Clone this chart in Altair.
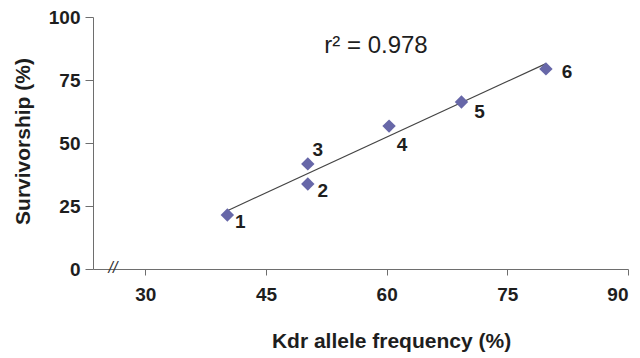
import altair as alt
import pandas as pd

# Data
site = ["1", "2", "3", "4", "5", "6"]
kdr_freq = [40.2, 50.2, 50.2, 60.3, 69.3, 79.8]
survivorship = [21.4, 33.7, 41.7, 56.7, 66.3, 79.4]
r2_text = ["r\u00b2 = 0.978"]

df = pd.DataFrame({"site": site, "kdr": kdr_freq, "surv": survivorship})

FONT = "Liberation Sans"
PT_COLOR = "#6767a8"
TXT = "#1e1e1e"

xscale = alt.Scale(domain=[23.5, 90], nice=False, zero=False)
yscale = alt.Scale(domain=[0, 100], nice=False)

base = alt.Chart(df)

points = base.mark_point(shape="diamond", filled=True, size=180, opacity=1,
                         color=PT_COLOR).encode(
    x=alt.X("kdr:Q", scale=xscale,
            axis=alt.Axis(title="Kdr allele frequency (%)", values=[30, 45, 60, 75, 90],
                          grid=False, domainColor="#6e6e6e", tickColor="#6e6e6e",
                          tickSize=6, labelFontSize=19, labelFontWeight="bold",
                          labelFont=FONT, labelColor=TXT, labelPadding=10,
                          titleFont=FONT, titleFontSize=21, titleFontWeight="bold",
                          titleColor=TXT, titleX=298, titleY=78,
                          titleBaseline="alphabetic", titleAlign="center")),
    y=alt.Y("surv:Q", scale=yscale,
            axis=alt.Axis(title="Survivorship (%)", values=[0, 25, 50, 75, 100],
                          grid=False, domainColor="#6e6e6e", tickColor="#6e6e6e",
                          tickSize=8, labelFontSize=19, labelFontWeight="bold",
                          labelFont=FONT, labelColor=TXT, labelPadding=5,
                          titleFont=FONT, titleFontSize=21, titleFontWeight="bold",
                          titleColor=TXT, titleX=-64, titleY=124,
                          titleBaseline="alphabetic", titleAlign="center",
                          titleAngle=270)),
)

fit = base.transform_regression("kdr", "surv").mark_line(
    color="#444444", strokeWidth=1.2).encode(
    x=alt.X("kdr:Q", scale=xscale),
    y=alt.Y("surv:Q", scale=yscale),
)

# label offsets (pixel styling) for each site label
offsets = {"1": (13, 7), "2": (15, 7), "3": (10, -14), "4": (13, 19),
           "5": (18, 10), "6": (21, 3)}
label_layers = []
for s in site:
    dx, dy = offsets[s]
    label_layers.append(
        base.transform_filter(alt.datum.site == s).mark_text(
            dx=dx, dy=dy, font=FONT, fontSize=19, fontWeight="bold",
            color=TXT).encode(
            x=alt.X("kdr:Q", scale=xscale),
            y=alt.Y("surv:Q", scale=yscale),
            text="site:N")
    )

r2 = alt.Chart(pd.DataFrame({"t": r2_text})).mark_text(
    font=FONT, fontSize=24, color=TXT, align="center", baseline="middle").encode(
    x=alt.value(283), y=alt.value(29), text="t:N")

brk = alt.Chart(pd.DataFrame({"t": ["//"]})).mark_text(
    font=FONT, fontSize=16, fontStyle="italic", color="#333333",
    align="center", baseline="middle").encode(
    x=alt.value(20), y=alt.value(251), text="t:N")

chart = alt.layer(fit, points, *label_layers, r2, brk).properties(
    width=535, height=252,
    autosize=alt.AutoSizeParams(type="none"),
    padding={"left": 93, "top": 17, "right": 12, "bottom": 89},
    background="white",
).configure_view(strokeWidth=0)

chart.save("out.html", embed_options={"renderer": "svg", "actions": False})
